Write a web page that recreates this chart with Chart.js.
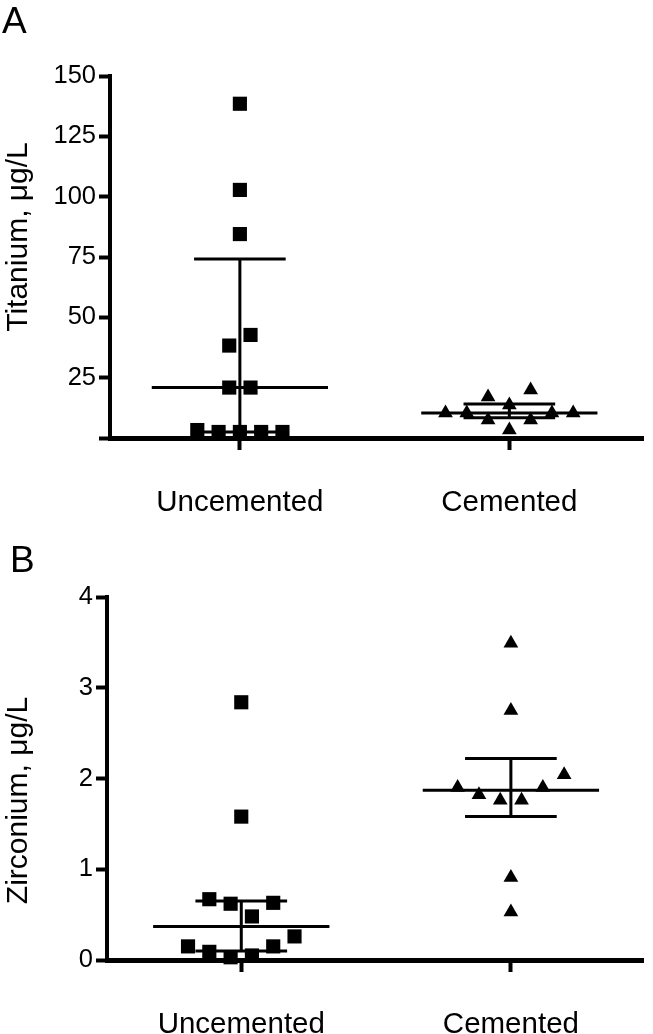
<!DOCTYPE html>
<html>
<head>
<meta charset="utf-8">
<script src="https://cdn.jsdelivr.net/npm/chart.js@4.4.0/dist/chart.umd.min.js"></script>
<style>
  body { margin: 0; background: #fff; width: 653px; height: 1034px; position: relative; overflow: hidden;
         font-family: "Liberation Sans", Arial, sans-serif; }
  .panel { position: absolute; left: 0; width: 653px; }
  #boxA { top: 0; height: 530px; }
  #boxB { top: 530px; height: 504px; }
  .letter { position: absolute; font-size: 37px; line-height: 1; color: #000; }
</style>
</head>
<body>
<div class="panel" id="boxA"><canvas id="chartA"></canvas></div>
<div class="panel" id="boxB"><canvas id="chartB"></canvas></div>
<div class="letter" style="left:2px; top:2px">A</div>
<div class="letter" style="left:10px; top:541px">B</div>

<script>
const FONT = "'Liberation Sans', Arial, sans-serif";

const categories = ['Uncemented', 'Cemented'];

// panel A - titanium
const titUncemented = [138.5, 102.8, 84.5, 42.7, 38.3, 20.9, 20.9, 3.3, 2.5, 2.5, 2.5, 2.5];
const titCemented = [19.9, 17.0, 13.7, 10.4, 10.4, 10.4, 10.4, 7.5, 7.5, 3.3];
const titMedian = [20.9, 10.4];
const titQ1 = [2.5, 8.4];
const titQ3 = [74.2, 14.1];
const titTicks = [0, 25, 50, 75, 100, 125, 150];
const titTickLabels = ['', '25', '50', '75', '100', '125', '150'];

// panel B - zirconium
const zirUncemented = [2.84, 1.58, 0.67, 0.62, 0.63, 0.48, 0.26, 0.15, 0.09, 0.15, 0.03, 0.05];
const zirCemented = [3.49, 2.75, 2.04, 1.90, 1.90, 1.82, 1.76, 1.76, 0.91, 0.53];
const zirMedian = [0.37, 1.87];
const zirQ1 = [0.10, 1.58];
const zirQ3 = [0.65, 2.22];
const zirTicks = [0, 1, 2, 3, 4];
const zirTickLabels = ['0', '1', '2', '3', '4'];

// column scatter spread, in symbol slots (layout only)
const titUncSpread = [0, 0, 0, 0.5, -0.5, -0.5, 0.5, -2, -1, 0, 1, 2];
const titCemSpread = [1, -1, 0, -3, -2, 2, 3, -1, 1, 0];
const zirUncSpread = [0, 0, -1.5, -0.5, 1.5, 0.5, 2.5, -2.5, -1.5, 1.5, -0.5, 0.5];
const zirCemSpread = [0, 0, 2.5, -2.5, 1.5, -1.5, -0.5, 0.5, 0, 0];

const SLOT = 0.079;       // one symbol slot in x units
const MED_HALF = 0.327;   // half width of median line
const CAP_HALF = 0.17;    // half width of IQR caps

// draws median line + interquartile bars
const summaryLines = {
  id: 'summaryLines',
  afterDatasetsDraw(chart, args, opts) {
    const ctx = chart.ctx;
    const x = chart.scales.x, y = chart.scales.y;
    ctx.save();
    ctx.strokeStyle = '#000';
    ctx.lineWidth = 3;
    opts.median.forEach((m, i) => {
      const c = i + 1;
      const cx = x.getPixelForValue(c);
      ctx.beginPath();
      ctx.moveTo(x.getPixelForValue(c - MED_HALF), y.getPixelForValue(m));
      ctx.lineTo(x.getPixelForValue(c + MED_HALF), y.getPixelForValue(m));
      [opts.q1[i], opts.q3[i]].forEach(q => {
        ctx.moveTo(x.getPixelForValue(c - CAP_HALF), y.getPixelForValue(q));
        ctx.lineTo(x.getPixelForValue(c + CAP_HALF), y.getPixelForValue(q));
      });
      ctx.moveTo(cx, y.getPixelForValue(opts.q1[i]));
      ctx.lineTo(cx, y.getPixelForValue(opts.q3[i]));
      ctx.stroke();
    });
    ctx.restore();
  }
};

// rotated y axis title, placed a little off the axis centre like the original
const yTitle = {
  id: 'yTitle',
  afterDraw(chart, args, opts) {
    const ctx = chart.ctx;
    const a = chart.chartArea;
    ctx.save();
    ctx.translate(opts.x, (a.top + a.bottom) / 2 + opts.shift);
    ctx.rotate(-Math.PI / 2);
    ctx.fillStyle = '#000';
    ctx.font = '30px ' + FONT;
    ctx.textAlign = 'center';
    ctx.textBaseline = 'alphabetic';
    ctx.fillText(opts.text, 0, 0);
    ctx.restore();
  }
};

function makeChart(id, o) {
  const sets = [
    { data: o.unc.map((v, k) => ({ x: 1 + o.uncSpread[k] * SLOT, y: v })), pointStyle: 'rect', pointRadius: 10 },
    { data: o.cem.map((v, k) => ({ x: 2 + o.cemSpread[k] * SLOT, y: v })), pointStyle: 'triangle', pointRadius: 8.5 }
  ].map(d => Object.assign(d, {
    backgroundColor: '#000', borderColor: '#000', borderWidth: 0,
    pointHoverRadius: d.pointRadius, showLine: false, clip: false
  }));

  return new Chart(document.getElementById(id), {
    type: 'scatter',
    data: { datasets: sets },
    plugins: [summaryLines, yTitle],
    options: {
      responsive: true,
      maintainAspectRatio: false,
      animation: false,
      events: [],
      layout: { padding: { top: o.padTop, right: o.padRight, left: 0, bottom: 0 } },
      plugins: {
        legend: { display: false },
        tooltip: { enabled: false },
        summaryLines: { median: o.median, q1: o.q1, q3: o.q3 },
        yTitle: { text: o.title, x: 27, shift: o.titleShift }
      },
      scales: {
        x: {
          type: 'linear',
          min: o.xMin, max: o.xMax,
          afterBuildTicks: s => { s.ticks = categories.map((c, i) => ({ value: i + 1 })); },
          afterFit: s => { s.height = o.xHeight; },
          border: { display: true, color: '#000', width: 5 },
          grid: { drawOnChartArea: false, drawTicks: true, tickLength: 12, tickWidth: 4, tickColor: '#000' },
          ticks: {
            color: '#000', font: { size: 29.5, family: FONT }, padding: 35,
            autoSkip: false, maxRotation: 0,
            callback: (v, i) => categories[i]
          }
        },
        y: {
          min: o.ticks[0], max: o.ticks[o.ticks.length - 1],
          afterBuildTicks: s => { s.ticks = o.ticks.map(v => ({ value: v })); },
          afterFit: s => { s.width = o.yWidth; },
          border: { display: true, color: '#000', width: 4 },
          grid: { drawOnChartArea: false, drawTicks: true, tickLength: 11, tickWidth: 4, tickColor: '#000' },
          ticks: {
            color: '#000', font: { size: 25.5, family: FONT }, padding: 3,
            callback: (v, i) => o.tickLabels[i]
          }
        }
      }
    }
  });
}

makeChart('chartA', {
  unc: titUncemented, cem: titCemented,
  uncSpread: titUncSpread, cemSpread: titCemSpread,
  median: titMedian, q1: titQ1, q3: titQ3,
  ticks: titTicks, tickLabels: titTickLabels,
  title: 'Titanium, μg/L', titleShift: -20,
  xMin: 0.518, xMax: 2.496,
  padTop: 76, padRight: 5, yWidth: 110, xHeight: 92
});

makeChart('chartB', {
  unc: zirUncemented, cem: zirCemented,
  uncSpread: zirUncSpread, cemSpread: zirCemSpread,
  median: zirMedian, q1: zirQ1, q3: zirQ3,
  ticks: zirTicks, tickLabels: zirTickLabels,
  title: 'Zirconium, μg/L', titleShift: 22,
  xMin: 0.502, xMax: 2.49,
  padTop: 67, padRight: 3, yWidth: 107, xHeight: 74
});
</script>
</body>
</html>
